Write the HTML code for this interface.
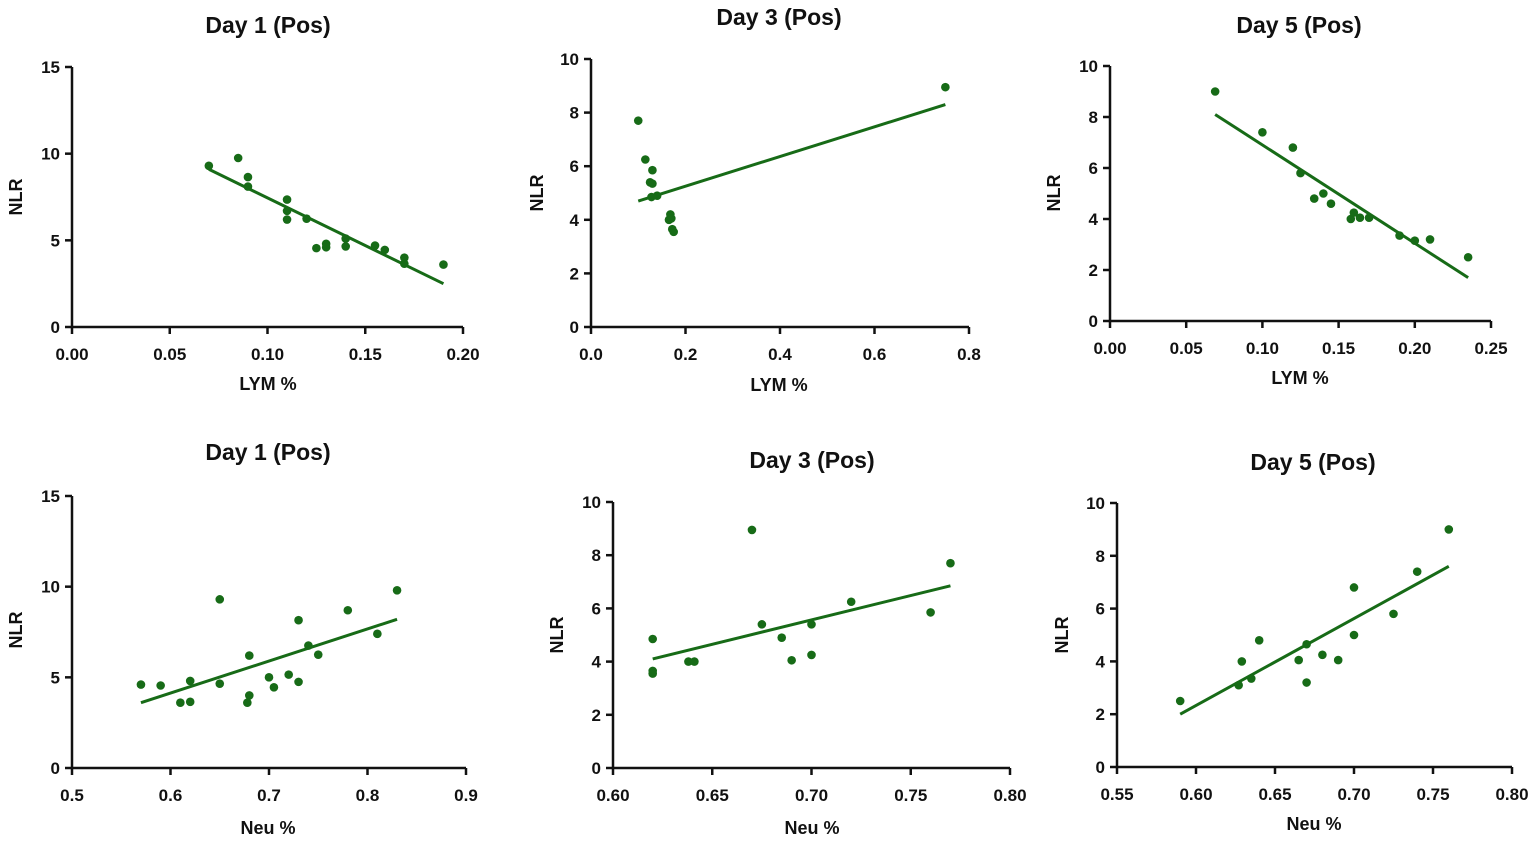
<!DOCTYPE html>
<html><head><meta charset="utf-8">
<style>
html,body{margin:0;padding:0;background:#fff;}
svg{display:block;font-family:"Liberation Sans",Arial,sans-serif;font-weight:bold;}
</style></head>
<body>
<svg id="fig" width="1535" height="843" viewBox="0 0 1535 843" xmlns="http://www.w3.org/2000/svg"></svg>
<script>
// ---- Data ----
const p1X=[0.07,0.085,0.09,0.09,0.11,0.11,0.11,0.12,0.125,0.13,0.13,0.14,0.14,0.155,0.16,0.17,0.17,0.19];
const p1Y=[9.3,9.75,8.65,8.1,7.35,6.7,6.2,6.25,4.55,4.6,4.8,5.1,4.65,4.7,4.45,4.0,3.65,3.6];
const p1Fit=[[0.07,9.1],[0.19,2.5]];
const p2X=[0.1,0.115,0.125,0.13,0.13,0.128,0.14,0.165,0.168,0.17,0.172,0.175,0.75];
const p2Y=[7.7,6.25,5.4,5.85,5.35,4.85,4.9,4.0,4.2,4.05,3.65,3.55,8.95];
const p2Fit=[[0.1,4.7],[0.75,8.3]];
const p3X=[0.069,0.1,0.12,0.125,0.134,0.14,0.145,0.158,0.16,0.164,0.17,0.19,0.2,0.21,0.235];
const p3Y=[9.0,7.4,6.8,5.8,4.8,5.0,4.6,4.0,4.25,4.05,4.05,3.35,3.15,3.2,2.5];
const p3Fit=[[0.069,8.1],[0.235,1.7]];
const p4X=[0.57,0.59,0.61,0.62,0.62,0.65,0.65,0.68,0.68,0.678,0.70,0.705,0.72,0.73,0.73,0.74,0.75,0.78,0.81,0.83];
const p4Y=[4.6,4.55,3.6,3.65,4.8,9.3,4.65,6.2,4.0,3.6,5.0,4.45,5.15,8.15,4.75,6.75,6.25,8.7,7.4,9.8];
const p4Fit=[[0.57,3.6],[0.83,8.2]];
const p5X=[0.62,0.62,0.62,0.638,0.641,0.67,0.675,0.685,0.69,0.70,0.70,0.72,0.76,0.77];
const p5Y=[4.85,3.65,3.55,4.0,4.0,8.95,5.4,4.9,4.05,5.4,4.25,6.25,5.85,7.7];
const p5Fit=[[0.62,4.1],[0.77,6.85]];
const p6X=[0.59,0.627,0.629,0.635,0.64,0.665,0.67,0.67,0.68,0.69,0.70,0.70,0.725,0.74,0.76];
const p6Y=[2.5,3.1,4.0,3.35,4.8,4.05,4.65,3.2,4.25,4.05,6.8,5.0,5.8,7.4,9.0];
const p6Fit=[[0.59,2.0],[0.76,7.6]];
const lymTicks1=["0.00","0.05","0.10","0.15","0.20"];
const lymTicks2=["0.0","0.2","0.4","0.6","0.8"];
const lymTicks3=["0.00","0.05","0.10","0.15","0.20","0.25"];
const neuTicks1=["0.5","0.6","0.7","0.8","0.9"];
const neuTicks2=["0.60","0.65","0.70","0.75","0.80"];
const neuTicks3=["0.55","0.60","0.65","0.70","0.75","0.80"];
const yTicks15=["0","5","10","15"];
const yTicks10=["0","2","4","6","8","10"];

const NS="http://www.w3.org/2000/svg";
const svg=document.getElementById('fig');
const G='#176b17';
function mk(tag,attrs,parent){const e=document.createElementNS(NS,tag);for(const k in attrs)e.setAttribute(k,attrs[k]);(parent||svg).appendChild(e);return e;}

function panel(o){
  const g=mk('g',{});
  
  
  const xv=o.xt.map(Number), yv=o.yt.map(Number);
  const x0=xv[0],x1=xv[xv.length-1],y0=yv[0],y1=yv[yv.length-1];
  const sx=v=>o.L+(v-x0)/(x1-x0)*(o.R-o.L);
  const sy=v=>o.B-(v-y0)/(y1-y0)*(o.B-o.T);
  const t=mk('text',{x:o.tx,y:o.ty,'text-anchor':'middle','font-size':23,fill:'#111'},g);
  t.textContent=o.title;
  
  
  const ax=mk('path',{d:`M${o.L},${o.T}V${o.B}H${o.R}`,stroke:'#111','stroke-width':2.5,fill:'none'},g);
  
  
  o.xt.forEach((s,i)=>{
    const x=sx(xv[i]);
    mk('line',{x1:x,y1:o.B,x2:x,y2:o.B+7,stroke:'#111','stroke-width':2.5},g);
    const tl=mk('text',{x:x,y:o.B+33,'text-anchor':'middle','font-size':17,fill:'#111'},g);
    tl.textContent=s;
    
    
  });
  o.yt.forEach((s,i)=>{
    const y=sy(yv[i]);
    mk('line',{x1:o.L-7,y1:y,x2:o.L,y2:y,stroke:'#111','stroke-width':2.5},g);
    const tl=mk('text',{x:o.L-12,y:y+6,'text-anchor':'end','font-size':17,fill:'#111'},g);
    tl.textContent=s;
    
    
  });
  const xl=mk('text',{x:o.xlx,y:o.xly,'text-anchor':'middle','font-size':18,fill:'#111'},g);
  xl.textContent=o.xlabel;
  
  
  const yl=mk('text',{x:0,y:0,'text-anchor':'middle','font-size':18,fill:'#111',transform:`translate(${o.ylx},${o.yly}) rotate(-90)`},g);
  yl.textContent='NLR';
  
  
  const fl=mk('line',{x1:sx(o.fit[0][0]),y1:sy(o.fit[0][1]),x2:sx(o.fit[1][0]),y2:sy(o.fit[1][1]),stroke:G,'stroke-width':3},g);
  
  
  o.xs.forEach((v,i)=>{
    const c=mk('circle',{cx:sx(v),cy:sy(o.ys[i]),r:4.3,fill:G},g);
    
    
  });
}

panel({name:'day1-lym-panel',title:'Day 1 (Pos)',tx:268,ty:33,L:72,R:463,T:67,B:327,xt:lymTicks1,yt:yTicks15,xs:p1X,ys:p1Y,fit:p1Fit,xlabel:'LYM %',xlx:268,xly:390,ylx:22,yly:197});
panel({name:'day3-lym-panel',title:'Day 3 (Pos)',tx:779,ty:25,L:591,R:969,T:59,B:327,xt:lymTicks2,yt:yTicks10,xs:p2X,ys:p2Y,fit:p2Fit,xlabel:'LYM %',xlx:779,xly:391,ylx:543,yly:193});
panel({name:'day5-lym-panel',title:'Day 5 (Pos)',tx:1299,ty:33,L:1110,R:1491,T:66,B:321,xt:lymTicks3,yt:yTicks10,xs:p3X,ys:p3Y,fit:p3Fit,xlabel:'LYM %',xlx:1300,xly:384,ylx:1060,yly:193});
panel({name:'day1-neu-panel',title:'Day 1 (Pos)',tx:268,ty:460,L:72,R:466,T:496,B:768,xt:neuTicks1,yt:yTicks15,xs:p4X,ys:p4Y,fit:p4Fit,xlabel:'Neu %',xlx:268,xly:834,ylx:22,yly:630});
panel({name:'day3-neu-panel',title:'Day 3 (Pos)',tx:812,ty:468,L:613,R:1010,T:502,B:768,xt:neuTicks2,yt:yTicks10,xs:p5X,ys:p5Y,fit:p5Fit,xlabel:'Neu %',xlx:812,xly:834,ylx:563,yly:635});
panel({name:'day5-neu-panel',title:'Day 5 (Pos)',tx:1313,ty:470,L:1117,R:1512,T:503,B:767,xt:neuTicks3,yt:yTicks10,xs:p6X,ys:p6Y,fit:p6Fit,xlabel:'Neu %',xlx:1314,xly:830,ylx:1068,yly:635});
</script>
</body></html>
